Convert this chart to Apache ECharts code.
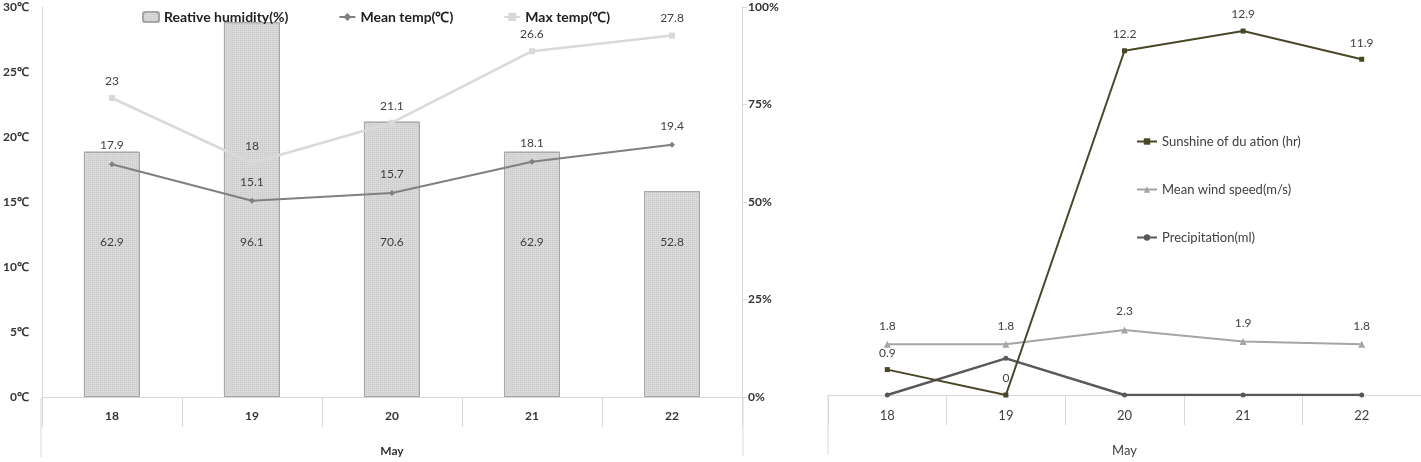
<!DOCTYPE html>
<html>
<head>
<meta charset="utf-8">
<script src="https://cdn.jsdelivr.net/npm/echarts@6/dist/echarts.min.js"></script>
<style>
  html, body { margin: 0; padding: 0; background: #fff; }
  #main { width: 1421px; height: 462px; }
</style>
</head>
<body>
<div id="main"></div>
<script>
// data
const days = ['18', '19', '20', '21', '22'];
const humidity = [62.9, 96.1, 70.6, 62.9, 52.8];
const meanTemp = [17.9, 15.1, 15.7, 18.1, 19.4];
const maxTemp = [23, 18, 21.1, 26.6, 27.8];
const sunshine = [0.9, 0, 12.2, 12.9, 11.9];
const windSpeed = [1.8, 1.8, 2.3, 1.9, 1.8];
const precipitation = [0, 1.3, 0, 0, 0];

const FONT = 'Lato, "Liberation Sans", sans-serif';
const axisGrey = '#d9d9d9';

const chart = echarts.init(document.getElementById('main'));

const boldLabel = { color: '#333', fontWeight: 'bold', fontSize: 12, fontFamily: FONT };
const valLabel = { show: true, position: 'top', color: '#404040', fontSize: 12, fontFamily: FONT };

const options = {
  animation: false,
  backgroundColor: '#fff',
  textStyle: { fontFamily: FONT },
  grid: [
    { left: 41, right: 679, top: 7, bottom: 64 },
    { left: 828, right: 0, top: 0, bottom: 67 }
  ],
  legend: [
    {
      left: 137, top: 5, itemGap: 50, itemWidth: 16, itemHeight: 10,
      textStyle: { color: '#222', fontWeight: 'bold', fontSize: 14, fontFamily: FONT },
      data: ['Reative humidity(%)', 'Mean temp(℃)', 'Max temp(℃)']
    },
    {
      orient: 'vertical', left: 1131, top: 130, itemGap: 35, itemWidth: 20, itemHeight: 8,
      textStyle: { color: '#404040', fontSize: 13, fontFamily: FONT },
      data: ['Sunshine of du ation (hr)', 'Mean wind speed(m/s)', 'Precipitation(ml)']
    }
  ],
  xAxis: [
    {
      type: 'category', gridIndex: 0, data: days, boundaryGap: true,
      axisLine: { lineStyle: { color: axisGrey } },
      axisTick: { show: true, interval: 0, length: 30, lineStyle: { color: axisGrey } },
      axisLabel: Object.assign({ margin: 13 }, boldLabel),
      name: 'May', nameLocation: 'middle', nameGap: 48,
      nameTextStyle: boldLabel
    },
    {
      type: 'category', gridIndex: 1, data: days, boundaryGap: true,
      axisLine: { lineStyle: { color: axisGrey } },
      axisTick: { show: true, interval: 0, length: 30, lineStyle: { color: axisGrey } },
      axisLabel: { margin: 14, color: '#404040', fontSize: 13, fontFamily: FONT },
      name: 'May', nameLocation: 'middle', nameGap: 49,
      nameTextStyle: { color: '#404040', fontSize: 13, fontFamily: FONT }
    }
  ],
  yAxis: [
    {
      type: 'value', gridIndex: 0, min: 0, max: 30, interval: 5,
      axisLine: { show: true, lineStyle: { color: axisGrey } },
      axisTick: { show: false },
      splitLine: { show: false },
      axisLabel: Object.assign({ margin: 13, formatter: '{value}℃' }, boldLabel)
    },
    {
      type: 'value', gridIndex: 0, min: 0, max: 100, interval: 25, position: 'right',
      axisLine: { show: true, lineStyle: { color: axisGrey } },
      axisTick: { show: true, length: 5, lineStyle: { color: axisGrey } },
      splitLine: { show: false },
      axisLabel: Object.assign({ margin: 6, formatter: '{value}%' }, boldLabel)
    },
    {
      type: 'value', gridIndex: 1, min: 0, max: 14, show: false,
      splitLine: { show: false }
    }
  ],
  graphic: [
    { type: 'line', shape: { x1: 41, y1: 398, x2: 41, y2: 457 }, style: { stroke: axisGrey, lineWidth: 1 } },
    { type: 'line', shape: { x1: 743, y1: 398, x2: 743, y2: 456 }, style: { stroke: axisGrey, lineWidth: 1 } },
    { type: 'line', shape: { x1: 828, y1: 395, x2: 828, y2: 455 }, style: { stroke: axisGrey, lineWidth: 1 } }
  ],
  series: [
    {
      name: 'Reative humidity(%)', type: 'bar', xAxisIndex: 0, yAxisIndex: 1,
      data: humidity, barWidth: 56,
      itemStyle: {
        color: '#d9d9d9', borderColor: '#a6a6a6', borderWidth: 1,
        decal: { symbol: 'rect', symbolSize: 1, dashArrayX: [1, 1], dashArrayY: [1, 1], color: 'rgba(120,120,120,0.18)' }
      },
      label: { show: true, position: 'insideBottom', distance: 149, color: '#404040', fontSize: 12, fontFamily: FONT }
    },
    {
      name: 'Mean temp(℃)', type: 'line', xAxisIndex: 0, yAxisIndex: 0,
      data: meanTemp, symbol: 'diamond', symbolSize: 6, z: 4,
      lineStyle: { color: '#808080', width: 2 }, itemStyle: { color: '#808080' },
      label: Object.assign({ distance: 10 }, valLabel)
    },
    {
      name: 'Max temp(℃)', type: 'line', xAxisIndex: 0, yAxisIndex: 0,
      data: maxTemp, symbol: 'rect', symbolSize: 6, z: 3,
      lineStyle: { color: '#d9d9d9', width: 2.5 }, itemStyle: { color: '#d9d9d9' },
      label: Object.assign({ distance: 8 }, valLabel)
    },
    {
      name: 'Sunshine of du ation (hr)', type: 'line', xAxisIndex: 1, yAxisIndex: 2,
      data: sunshine, symbol: 'rect', symbolSize: 5, z: 4,
      lineStyle: { color: '#4a4628', width: 2 }, itemStyle: { color: '#4a4628' },
      label: Object.assign({ distance: 8 }, valLabel)
    },
    {
      name: 'Mean wind speed(m/s)', type: 'line', xAxisIndex: 1, yAxisIndex: 2,
      data: windSpeed, symbol: 'triangle', symbolSize: 7, z: 3,
      lineStyle: { color: '#a5a5a5', width: 2 }, itemStyle: { color: '#a5a5a5' },
      label: Object.assign({ distance: 9 }, valLabel)
    },
    {
      name: 'Precipitation(ml)', type: 'line', xAxisIndex: 1, yAxisIndex: 2,
      data: precipitation, symbol: 'circle', symbolSize: 5, z: 3,
      lineStyle: { color: '#595959', width: 2.5 }, itemStyle: { color: '#595959' }
    }
  ]
};

chart.setOption(options);
</script>
</body>
</html>
